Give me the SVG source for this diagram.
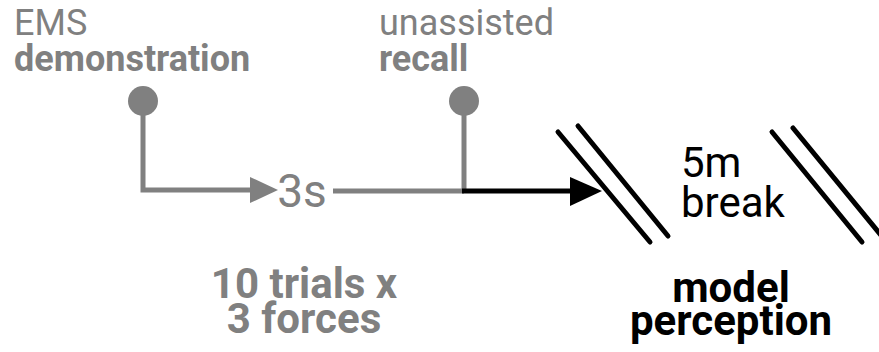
<svg xmlns="http://www.w3.org/2000/svg" width="879" height="352" viewBox="0 0 879 352">
<style>
text{font-family:Roboto,"Liberation Sans",sans-serif;font-size:36px}
.g{fill:#808080}
.k{fill:#000}
.b{font-weight:bold}
.big{font-size:42px}
.gl{stroke:#808080;stroke-width:5;fill:none}
.kl{stroke:#000;stroke-width:5;fill:none;stroke-linecap:round}
</style>
<rect width="879" height="352" fill="#fff"/>
<g id="demo">
<text class="g" x="14" y="35">EMS</text>
<text class="g b" x="14" y="71">demonstration</text>
<circle cx="143" cy="101" r="15" fill="#808080"/>
</g>
<g id="recall">
<text class="g" x="379" y="35">unassisted</text>
<text class="g b" x="379" y="71">recall</text>
<circle cx="464" cy="101" r="15" fill="#808080"/>
</g>
<g id="delay">
<text class="g" x="302" y="207" text-anchor="middle" style="font-size:46px">3s</text>
</g>
<g id="trials">
<text class="g b big" x="304" y="298" text-anchor="middle">10 trials x</text>
<text class="g b big" x="304" y="333" text-anchor="middle">3 forces</text>
</g>
<g id="break">
<line class="kl" x1="558" y1="132" x2="650" y2="242"/>
<line class="kl" x1="578" y1="126" x2="668" y2="236"/>
<line class="kl" x1="772" y1="132" x2="862" y2="242"/>
<line class="kl" x1="793" y1="128" x2="885" y2="240"/>
<text class="k big" x="681" y="177">5m</text>
<text class="k big" x="681" y="217">break</text>
</g>
<g id="model">
<text class="k b big" x="731" y="302" text-anchor="middle">model</text>
<text class="k b big" x="731" y="335" text-anchor="middle">perception</text>
</g>
<g id="connectors">
<polyline class="gl" points="143,101 143,190 252,190"/>
<polygon points="250,177 278,190 250,203" fill="#808080"/>
<line class="gl" x1="333" y1="191" x2="464" y2="191"/>
<line class="gl" x1="464" y1="101" x2="464" y2="191"/>
<line stroke="#000" stroke-width="5" x1="462" y1="191" x2="574" y2="191"/>
<polygon points="570,177 602,191 570,206" fill="#000"/>
</g>
</svg>
